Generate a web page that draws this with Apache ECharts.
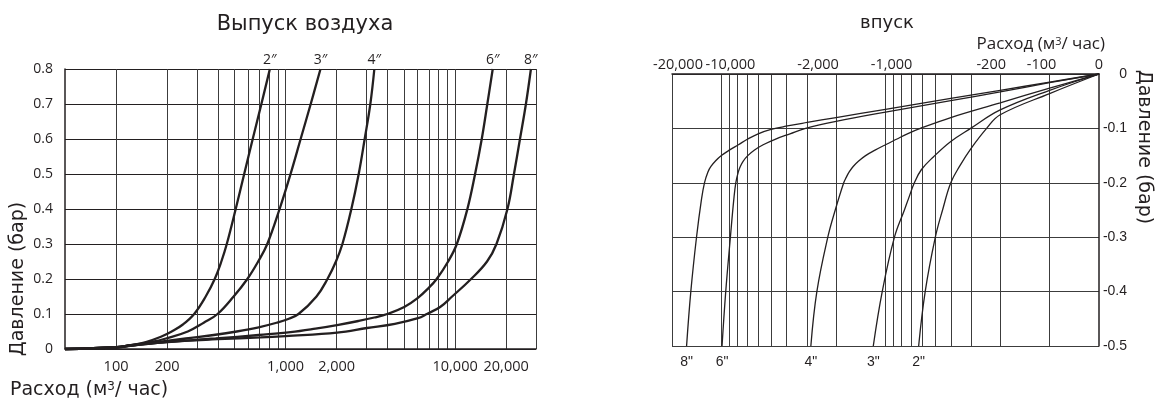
<!DOCTYPE html>
<html>
<head>
<meta charset="utf-8">
<script src="https://cdn.jsdelivr.net/npm/echarts@6/dist/echarts.min.js"></script>
<style>
html, body { margin: 0; padding: 0; background: #fff; }
#chart { width: 1155px; height: 403px; }
</style>
</head>
<body>
<div id="chart"></div>
<script>
// Выпуск воздуха: [расход м3/час, давление бар]
const outNames = ['2″', '3″', '4″', '6″', '8″'];
const out2 = [[50,0],[101,0.005],[119,0.01],[150,0.02],[184,0.035],[213,0.05],[248,0.07],[289,0.1],[338,0.15],[382,0.2],[418,0.25],[450,0.3],[508,0.4],[570,0.5],[640,0.6],[720,0.7],[808,0.8]];
const out3 = [[50,0],[101,0.005],[119,0.01],[161,0.02],[197,0.03],[265,0.05],[329,0.075],[397,0.1],[494,0.15],[595,0.2],[689,0.25],[780,0.3],[922,0.4],[1070,0.5],[1227,0.6],[1407,0.7],[1607,0.8]];
const out4 = [[50,0],[101,0.005],[122,0.01],[179,0.02],[258,0.03],[377,0.04],[515,0.05],[694,0.062],[885,0.075],[1027,0.085],[1192,0.1],[1522,0.15],[1766,0.2],[1982,0.25],[2164,0.3],[2444,0.4],[2700,0.5],[2928,0.6],[3162,0.7],[3339,0.8]];
const out6 = [[50,0],[101,0.005],[122,0.01],[197,0.02],[387,0.03],[694,0.04],[1070,0.048],[1501,0.058],[2050,0.069],[2688,0.08],[3339,0.09],[3981,0.1],[5012,0.12],[6035,0.146],[6966,0.174],[7784,0.2],[9095,0.25],[10235,0.3],[11815,0.4],[13116,0.5],[14360,0.6],[15490,0.7],[16670,0.8]];
const out8 = [[50,0],[101,0.005],[126,0.01],[200,0.02],[398,0.028],[713,0.033],[1000,0.037],[2014,0.047],[3025,0.06],[4410,0.072],[6035,0.088],[6817,0.1],[8163,0.12],[9603,0.15],[12420,0.2],[15430,0.25],[17540,0.3],[20360,0.4],[22240,0.5],[24130,0.6],[26160,0.7],[28000,0.8]];
const outGridX = [100,200,300,400,500,600,700,800,900,1000,2000,3000,4000,5000,6000,7000,8000,9000,10000,20000,30000];
const outLabelX = [100,200,1000,2000,10000,20000];

// впуск: [расход м3/час (модуль), давление бар]
const inNames = ['8"', '6"', '4"', '3"', '2"'];
const in8 = [[50,0],[100,-0.015],[200,-0.03],[400,-0.045],[1000,-0.065],[2000,-0.08],[3000,-0.089],[4040,-0.096],[4980,-0.102],[5970,-0.11],[6950,-0.12],[7880,-0.13],[8950,-0.14],[10000,-0.15],[10870,-0.16],[11580,-0.17],[12080,-0.18],[12680,-0.2],[13220,-0.23],[14180,-0.3],[15360,-0.4],[16300,-0.5]];
const in6 = [[50,0],[100,-0.016],[200,-0.033],[400,-0.049],[1000,-0.07],[2000,-0.087],[3070,-0.1],[3818,-0.11],[4707,-0.12],[5565,-0.13],[6310,-0.14],[6905,-0.15],[7358,-0.16],[7670,-0.17],[7887,-0.18],[8170,-0.2],[8400,-0.23],[8815,-0.3],[9410,-0.4],[9910,-0.5]];
const in4 = [[50,0],[100,-0.026],[200,-0.053],[400,-0.08],[614,-0.1],[736,-0.11],[858,-0.12],[1000,-0.13],[1158,-0.14],[1322,-0.15],[1457,-0.16],[1574,-0.17],[1664,-0.18],[1735,-0.19],[1797,-0.2],[2024,-0.25],[2247,-0.3],[2620,-0.4],[2850,-0.5]];
const in3 = [[50,0],[100,-0.03],[200,-0.066],[303,-0.1],[400,-0.124],[509,-0.152],[605,-0.176],[667,-0.2],[726,-0.23],[767,-0.25],[882,-0.3],[1047,-0.4],[1187,-0.5]];
const in2 = [[50,0],[100,-0.036],[200,-0.075],[242,-0.1],[303,-0.138],[351,-0.168],[400,-0.2],[449,-0.25],[497,-0.3],[573,-0.4],[628,-0.5]];
const inGridX = [100,200,300,400,500,600,700,800,900,1000,2000,3000,4000,5000,6000,7000,8000,9000,10000,20000];
const inLabelX = [50,100,200,1000,2000,10000,20000];
// сдвиг подписей верхней оси (px)
const inLabelShift = {50: 0, 100: -8, 200: -9, 1000: 6, 2000: -18, 10000: 9, 20000: 6};

const ink = '#231f20';
const gridColor = '#3c3c3c';

function fmt(v) {
  return String(v).replace(/\B(?=(\d{3})+(?!\d))/g, ',');
}

const outData = [out2, out3, out4, out6, out8];
const inData = [in8, in6, in4, in3, in2];

const series = [];
outData.forEach(function (pts, i) {
  series.push({
    name: outNames[i], type: 'line', xAxisIndex: 0, yAxisIndex: 0,
    data: pts, symbol: 'none', smooth: 0.4, silent: true, clip: false,
    lineStyle: { color: ink, width: 2.3 },
    endLabel: { show: true, formatter: '{a}', align: 'center', verticalAlign: 'bottom',
      distance: 0, padding: [0, 0, 2, 0], color: ink, fontFamily: 'Open Sans', fontSize: 14 }
  });
});
inData.forEach(function (pts, i) {
  series.push({
    name: inNames[i], type: 'line', xAxisIndex: 1, yAxisIndex: 1,
    data: pts, symbol: 'none', smooth: 0.4, silent: true, clip: false,
    lineStyle: { color: ink, width: 1.3 },
    endLabel: { show: true, formatter: '{a}', align: 'center', verticalAlign: 'top',
      distance: 0, padding: [9, 0, 0, 0], color: ink, fontFamily: 'Liberation Sans', fontSize: 14 }
  });
});

const supStyle = { s: { fontFamily: 'DejaVu Sans', fontSize: 12, verticalAlign: 'top', color: ink } };

const chart = echarts.init(document.getElementById('chart'));
chart.setOption({
  animation: false,
  backgroundColor: '#fff',
  title: [
    { text: 'Выпуск воздуха', left: 300, top: 9, textAlign: 'center',
      textStyle: { fontFamily: 'DejaVu Sans', fontSize: 21, fontWeight: 'normal', color: ink } },
    { text: 'впуск', left: 882, top: 9, textAlign: 'center',
      textStyle: { fontFamily: 'DejaVu Sans', fontSize: 18, fontWeight: 'normal', color: ink } }
  ],
  grid: [
    { left: 65, top: 69, width: 471, height: 280 },
    { left: 672, top: 74, width: 427, height: 272 }
  ],
  xAxis: [
    {
      type: 'log', gridIndex: 0, min: 50, max: 30000,
      axisLine: { show: true, lineStyle: { color: ink, width: 1.5 } },
      axisTick: { show: false, customValues: outGridX },
      splitLine: { show: true, lineStyle: { color: gridColor, width: 1 } },
      axisLabel: { customValues: outLabelX, formatter: fmt, margin: 10,
        fontFamily: 'Open Sans', fontSize: 14.5, color: ink },
      name: 'Расход (м{s|3}/ час)', nameLocation: 'start', nameGap: 55,
      nameTextStyle: { fontFamily: 'DejaVu Sans', fontSize: 19, color: ink,
        align: 'left', verticalAlign: 'top', padding: [32, 0, 0, 0], rich: supStyle }
    },
    {
      type: 'log', gridIndex: 1, min: 50, max: 20000, inverse: true, position: 'top',
      axisLine: { show: true, lineStyle: { color: ink, width: 1.5 } },
      axisTick: { show: false, customValues: inGridX },
      splitLine: { show: true, lineStyle: { color: gridColor, width: 1 } },
      axisLabel: {
        customValues: inLabelX, margin: 2,
        fontFamily: 'Open Sans', fontSize: 14.5, color: ink,
        formatter: function (v) {
          const t = v === 50 ? '0' : '-' + fmt(v);
          const s = inLabelShift[v] || 0;
          if (s < 0) return '{l' + (-s) + '|' + t + '}';
          if (s > 0) return '{r' + s + '|' + t + '}';
          return t;
        },
        rich: (function () {
          const r = {};
          Object.keys(inLabelShift).forEach(function (k) {
            const s = inLabelShift[k];
            const base = { fontFamily: 'Open Sans', fontSize: 14.5, color: ink };
            if (s < 0) r['l' + (-s)] = Object.assign({ padding: [0, -2 * s, 0, 0] }, base);
            if (s > 0) r['r' + s] = Object.assign({ padding: [0, 0, 0, 2 * s] }, base);
          });
          return r;
        })()
      },
      name: 'Расход (м{s|3}/ час)', nameLocation: 'start', nameGap: 6,
      nameTextStyle: { fontFamily: 'Open Sans', fontSize: 17, color: ink,
        align: 'right', verticalAlign: 'bottom', padding: [0, 0, 21, 0],
        rich: { s: { fontFamily: 'Open Sans', fontSize: 11, verticalAlign: 'top', color: ink } } }
    }
  ],
  yAxis: [
    {
      type: 'value', gridIndex: 0, min: 0, max: 0.8, interval: 0.1,
      axisLine: { show: true, lineStyle: { color: ink, width: 1.5 } },
      axisTick: { show: false },
      splitLine: { show: true, lineStyle: { color: ink, width: 1 } },
      axisLabel: { margin: 12, padding: [6, 0, 0, 0], fontFamily: 'Open Sans', fontSize: 14, color: ink,
        formatter: function (v) { return v === 0 ? '0' : v.toFixed(1); } },
      name: 'Давление (бар)', nameLocation: 'middle', nameGap: 37,
      nameTextStyle: { fontFamily: 'DejaVu Sans', fontSize: 19, color: ink, padding: [0, 140, 0, 0] }
    },
    {
      type: 'value', gridIndex: 1, min: -0.5, max: 0, interval: 0.1, position: 'right',
      axisLine: { show: true, lineStyle: { color: ink, width: 1.5 } },
      axisTick: { show: false },
      splitLine: { show: true, lineStyle: { color: gridColor, width: 1 } },
      axisLabel: { margin: 28, align: 'right', padding: [3, 0, 0, 0], fontFamily: 'Liberation Sans', fontSize: 14, color: ink,
        formatter: function (v) { return v === 0 ? '0' : v.toFixed(1); } },
      name: 'Давление (бар)', nameLocation: 'middle', nameGap: 35, nameRotate: -90,
      nameTextStyle: { fontFamily: 'DejaVu Sans', fontSize: 19, color: ink, padding: [0, 126, 0, 0] }
    }
  ],
  series: series
});
</script>
</body>
</html>
